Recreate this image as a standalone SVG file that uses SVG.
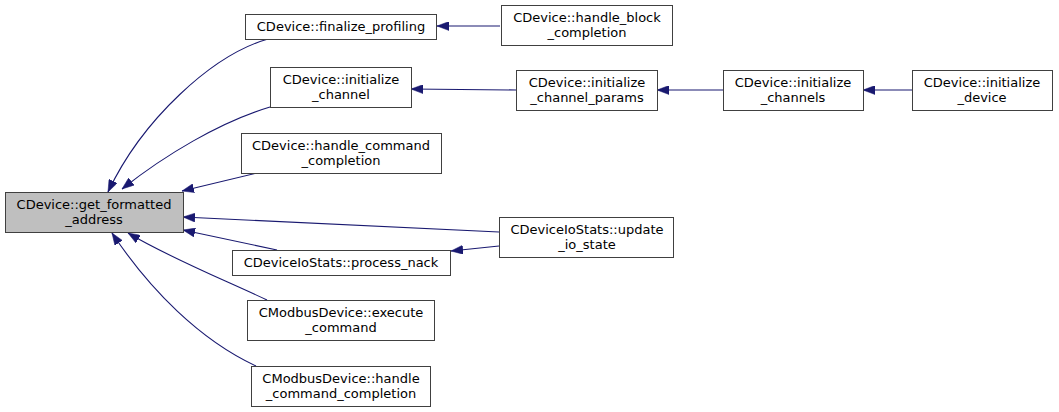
<svg xmlns="http://www.w3.org/2000/svg" width="1059" height="412" viewBox="0 0 1059 412">
<style>
.n rect{fill:#ffffff;stroke:#404040;stroke-width:1}
.n.f rect{fill:#bfbfbf}
.n text{font-family:"DejaVu Sans","Liberation Sans",sans-serif;font-size:13px;fill:#000;text-anchor:middle}
.e path{fill:none;stroke:#191970;stroke-width:1.1;marker-end:url(#ah)}
</style>
<defs>
<marker id="ah" viewBox="0 0 12 9" refX="12" refY="4.5" markerWidth="12" markerHeight="9" markerUnits="userSpaceOnUse" orient="auto">
<polygon points="0,0 12,4.5 0,9" fill="#191970" stroke="#191970" stroke-width="0.5"/>
</marker>
</defs>
<rect width="1059" height="412" fill="#ffffff"/>
<g id="connectors" class="e">
<path d="M268,39 C212,55 142,120 108,192"/>
<path d="M270,107 C220,122 165,155 122,189"/>
<path d="M257,173 L182,191"/>
<path d="M499,232 L183,217"/>
<path d="M277,250 L183,230"/>
<path d="M267,300 C220,278 170,258 128,233"/>
<path d="M256,366 C200,340 150,290 112,233"/>
<path d="M500,26 L437,26"/>
<path d="M516,90 L411,89"/>
<path d="M723,90 L657,90"/>
<path d="M912,90 L863,90"/>
<path d="M499,246 L451,251"/>
</g>
<g id="get_formatted_address" class="n f">
<rect x="5.5" y="192.5" width="178" height="40"/>
<text x="94" y="208.5">CDevice::get_formatted</text>
<text x="94" y="223.5">_address</text>
</g>
<g id="finalize_profiling" class="n">
<rect x="245.5" y="14.5" width="191" height="25"/>
<text x="341" y="31">CDevice::finalize_profiling</text>
</g>
<g id="handle_block_completion" class="n">
<rect x="501.5" y="5.5" width="171" height="40"/>
<text x="587" y="21.5">CDevice::handle_block</text>
<text x="587" y="36.5">_completion</text>
</g>
<g id="initialize_channel" class="n">
<rect x="270.5" y="67.5" width="141" height="40"/>
<text x="341" y="83.5">CDevice::initialize</text>
<text x="341" y="98.5">_channel</text>
</g>
<g id="initialize_channel_params" class="n">
<rect x="516.5" y="70.5" width="141" height="40"/>
<text x="587" y="86.5">CDevice::initialize</text>
<text x="587" y="101.5">_channel_params</text>
</g>
<g id="initialize_channels" class="n">
<rect x="723.5" y="70.5" width="140" height="40"/>
<text x="793" y="86.5">CDevice::initialize</text>
<text x="793" y="101.5">_channels</text>
</g>
<g id="initialize_device" class="n">
<rect x="912.5" y="70.5" width="140" height="40"/>
<text x="982" y="86.5">CDevice::initialize</text>
<text x="982" y="101.5">_device</text>
</g>
<g id="handle_command_completion" class="n">
<rect x="241.5" y="133.5" width="200" height="40"/>
<text x="341" y="149.5">CDevice::handle_command</text>
<text x="341" y="164.5">_completion</text>
</g>
<g id="update_io_state" class="n">
<rect x="499.5" y="217.5" width="174" height="40"/>
<text x="587" y="233.5">CDeviceIoStats::update</text>
<text x="587" y="248.5">_io_state</text>
</g>
<g id="process_nack" class="n">
<rect x="232.5" y="250.5" width="218" height="25"/>
<text x="341" y="267">CDeviceIoStats::process_nack</text>
</g>
<g id="execute_command" class="n">
<rect x="247.5" y="300.5" width="187" height="40"/>
<text x="341" y="316.5">CModbusDevice::execute</text>
<text x="341" y="331.5">_command</text>
</g>
<g id="modbus_handle_command_completion" class="n">
<rect x="251.5" y="366.5" width="179" height="40"/>
<text x="341" y="382.5">CModbusDevice::handle</text>
<text x="341" y="397.5">_command_completion</text>
</g>
</svg>
